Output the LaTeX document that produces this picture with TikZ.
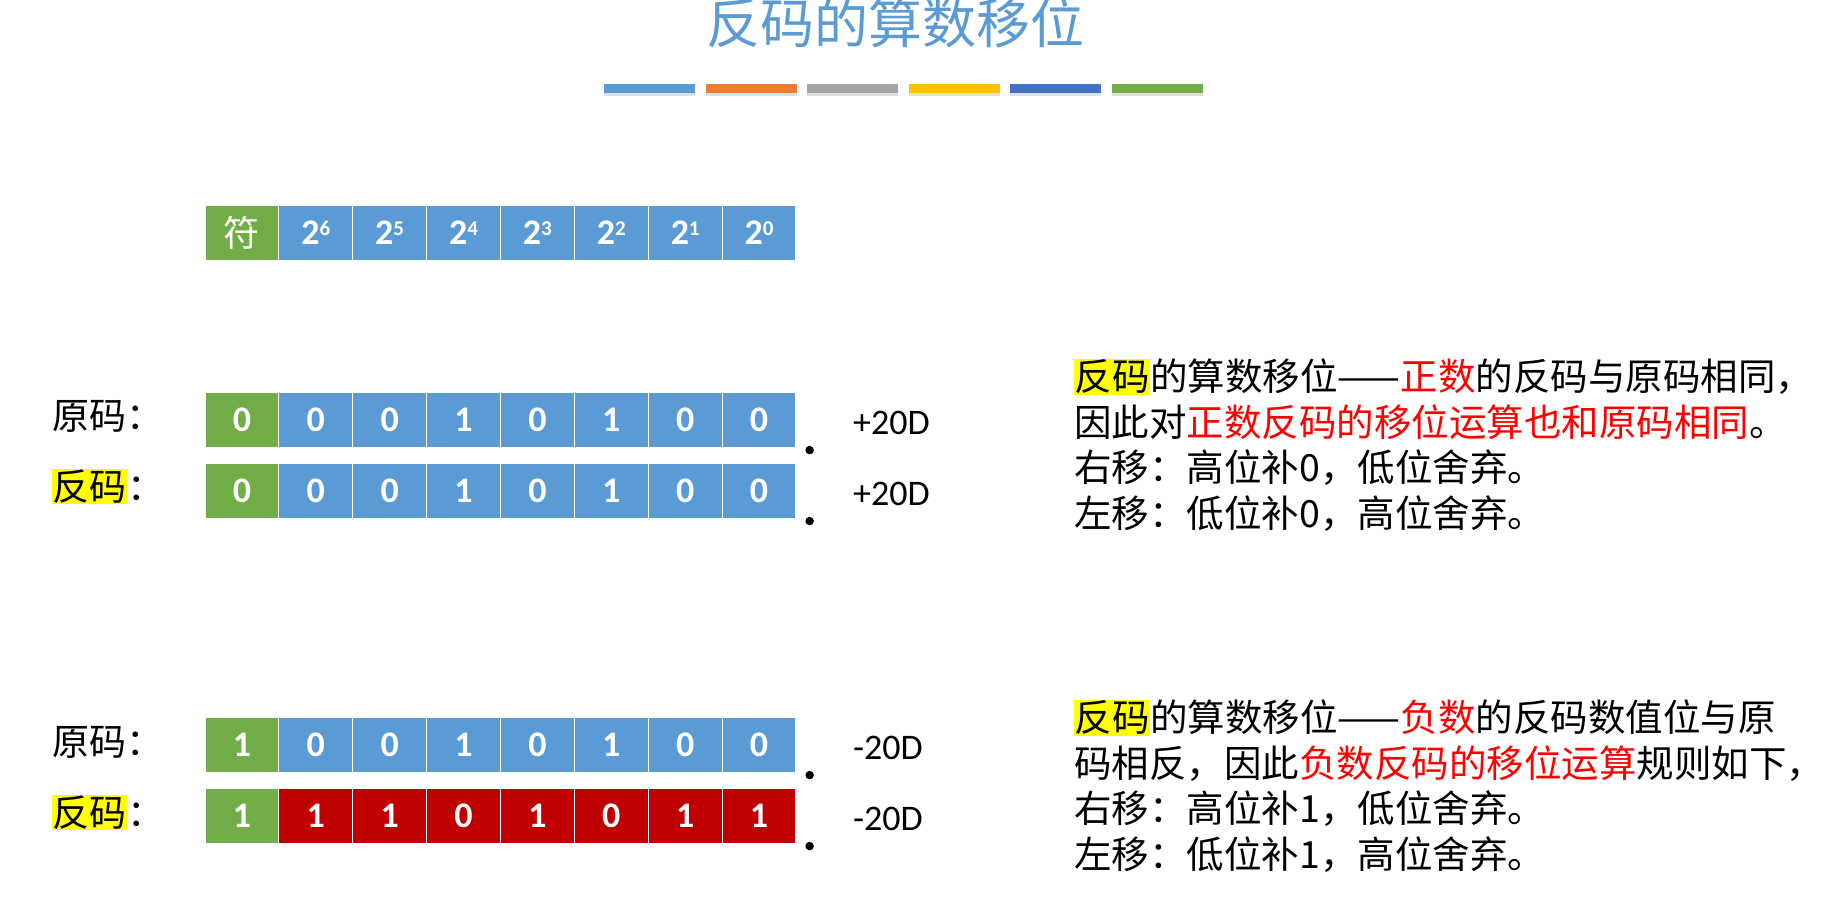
\documentclass[tikz,border=0pt]{standalone}
\usepackage{fontspec}
\setmainfont{Carlito}
\newfontfamily\cjk{Noto Sans CJK SC}
\usepackage{xcolor}
\usetikzlibrary{shadows}
\definecolor{sblue}{HTML}{5B9BD5}
\definecolor{sgreen}{HTML}{70AD47}
\definecolor{sred}{HTML}{C00000}
\definecolor{sorange}{HTML}{ED7D31}
\definecolor{sgray}{HTML}{A5A5A5}
\definecolor{sgold}{HTML}{FFC000}
\definecolor{sdblue}{HTML}{4472C4}
\definecolor{hlyellow}{HTML}{FFFF00}
\definecolor{hred}{HTML}{FF0000}
\newcommand\hl[1]{{\setlength{\fboxsep}{0.5pt}\colorbox{hlyellow}{#1}}}
\newcommand\pw[1]{2\raisebox{9pt}{\fontsize{21}{21}\selectfont #1}}

\begin{document}
\begin{tikzpicture}[x=1pt, y=-1pt,
  cell/.style={draw=white, line width=1.2pt, minimum width=73.9pt, minimum height=56pt, inner sep=0pt, text=white, font=\fontsize{36}{40}\selectfont\bfseries},
  bar/.style={minimum width=91pt, minimum height=9pt, inner sep=0pt, drop shadow={shadow xshift=0pt, shadow yshift=-3pt, opacity=0.25}},
  lbl/.style={anchor=base west, inner sep=0pt, font=\cjk\fontsize{37}{44}\selectfont},
  val/.style={anchor=base west, inner sep=0pt, font=\fontsize{36}{42}\selectfont},
  note/.style={anchor=north west, inner sep=0pt, align=left, font=\cjk\fontsize{37.5}{45.5}\selectfont},
  pt/.style={circle, fill=black, minimum size=8.5pt, inner sep=0pt},
]
\fill[white] (0,0) rectangle (1826,920);
\useasboundingbox (0,0) rectangle (1826,920);

% title and colour strip
\node[anchor=base, inner sep=0pt, text=sblue, font=\cjk\fontsize{54}{60}\selectfont] (title) at (895,44) {反码的算数移位};
\foreach \c [count=\i] in {sblue,sorange,sgray,sgold,sdblue,sgreen}
  \node[bar, fill=\c] (bar\i) at ({649.5+101.6*(\i-1)},88.5) {};

% weights
\node[cell, fill=sgreen, font=\cjk\fontsize{36}{40}\selectfont] (h1) at (241.9,233) {符};
\foreach \e [count=\i from 2] in {6,5,4,3,2,1,0}
  \node[cell, fill=sblue] (h\i) at ({205+73.875*(\i-0.5)},233) {\pw{\e}};

% +20D
\node[lbl] (la) at (52,429) {原码：};
\node[cell, fill=sgreen] (a1) at (241.9,420) {0};
\foreach \v [count=\i from 2] in {0,0,1,0,1,0,0}
  \node[cell, fill=sblue] (a\i) at ({205+73.875*(\i-0.5)},420) {\v};
\node[pt] (adot) at ([xshift=13pt, yshift=-1.5pt]a8.south east) {};
\node[val] (aval) at (853,434) {+20D};

\node[lbl] (lb) at (52,500) {\hl{反码}：};
\node[cell, fill=sgreen] (b1) at (241.9,491) {0};
\foreach \v [count=\i from 2] in {0,0,1,0,1,0,0}
  \node[cell, fill=sblue] (b\i) at ({205+73.875*(\i-0.5)},491) {\v};
\node[pt] (bdot) at ([xshift=13pt, yshift=-1.5pt]b8.south east) {};
\node[val] (bval) at (853,505) {+20D};

% -20D
\node[lbl] (lc) at (52,755) {原码：};
\node[cell, fill=sgreen] (c1) at (241.9,745) {1};
\foreach \v [count=\i from 2] in {0,0,1,0,1,0,0}
  \node[cell, fill=sblue] (c\i) at ({205+73.875*(\i-0.5)},745) {\v};
\node[pt] (cdot) at ([xshift=13pt, yshift=-1.5pt]c8.south east) {};
\node[val] (cval) at (853,759) {-20D};

\node[lbl] (ld) at (52,826) {\hl{反码}：};
\node[cell, fill=sgreen] (d1) at (241.9,816) {1};
\foreach \v [count=\i from 2] in {1,1,0,1,0,1,1}
  \node[cell, fill=sred] (d\i) at ({205+73.875*(\i-0.5)},816) {\v};
\node[pt] (ddot) at ([xshift=13pt, yshift=-1.5pt]d8.south east) {};
\node[val] (dval) at (853,830) {-20D};

% rules
\node[note] (npos) at (1074,359) {\hl{反码}的算数移位——{\color{hred}正数}的反码与原码相同，\\因此对{\color{hred}正数反码的移位运算也和原码相同}。\\右移：高位补0，低位舍弃。\\左移：低位补0，高位舍弃。};
\node[note] (nneg) at (1074,700) {\hl{反码}的算数移位——{\color{hred}负数}的反码数值位与原\\码相反，因此{\color{hred}负数反码的移位运算}规则如下，\\右移：高位补1，低位舍弃。\\左移：低位补1，高位舍弃。};
\end{tikzpicture}
\end{document}
